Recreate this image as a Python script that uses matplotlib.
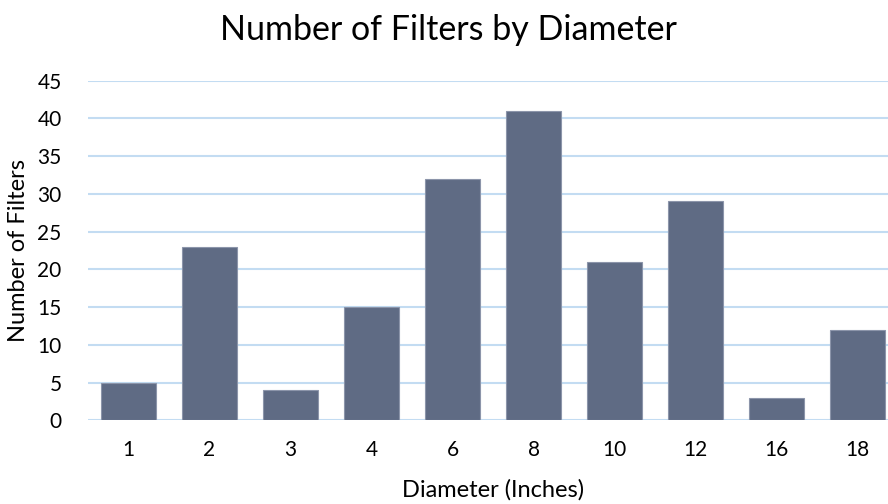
import matplotlib.pyplot as plt

diameters = ['1', '2', '3', '4', '6', '8', '10', '12', '16', '18']
counts = [5, 23, 4, 15, 32, 41, 21, 29, 3, 12]
y_ticks = list(range(0, 50, 5))

plt.rcParams['font.family'] = ['Lato', 'DejaVu Sans']

fig = plt.figure(figsize=(8.88, 5.04), dpi=100)
# plot area runs slightly past the right edge of the canvas
ax = fig.add_axes([88 / 888, (504 - 420.3) / 504, 810 / 888, 339.6 / 504])

ax.bar(range(len(counts)), counts, width=0.67, color='#5F6B84',
       edgecolor='#8C95AA', linewidth=0.8, zorder=3)

ax.set_xlim(-0.5, len(counts) - 0.5)
ax.set_ylim(0, 45)
ax.set_yticks(y_ticks)
ax.set_xticks(range(len(diameters)))
ax.set_xticklabels(diameters)
ax.yaxis.grid(True, color='#C3DCF2', linewidth=1.5, zorder=0)
ax.set_axisbelow(True)
for s in ax.spines.values():
    s.set_visible(False)
ax.tick_params(length=0, labelsize=15, colors='black')
ax.tick_params(axis='x', pad=14)
ax.tick_params(axis='y', pad=19)

ax.set_xlabel('Diameter (Inches)', fontsize=17, va='center')
ax.set_ylabel('Number of Filters', fontsize=17, va='center')
ax.xaxis.set_label_coords((493 - 88) / 810, -69.5 / 339.6)
ax.yaxis.set_label_coords(-70 / 810, 0.5)
fig.text(448 / 888, 1 - 30 / 504, 'Number of Filters by Diameter',
         ha='center', va='center', fontsize=24.5)

fig.savefig('out.png', dpi=100)
